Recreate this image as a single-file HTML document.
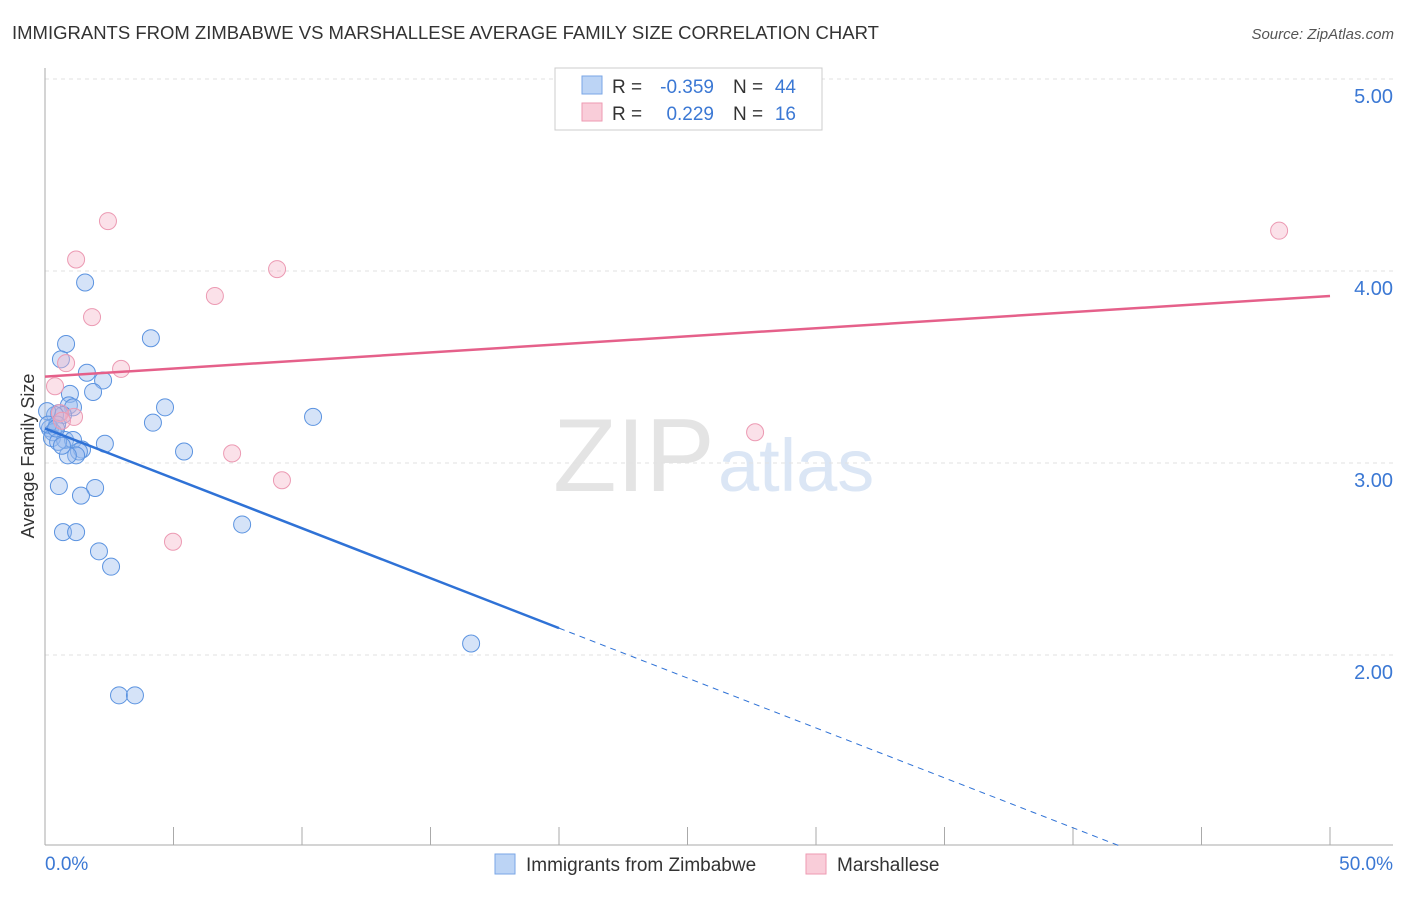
<!DOCTYPE html>
<html><head><meta charset="utf-8"><style>
body{margin:0;background:#fff;font-family:"Liberation Sans",sans-serif;}
svg text{font-family:"Liberation Sans",sans-serif;}
</style></head><body>
<svg id="chart" width="1406" height="892" xmlns="http://www.w3.org/2000/svg">
<text x="12" y="39" font-size="18.5" fill="#333">IMMIGRANTS FROM ZIMBABWE VS MARSHALLESE AVERAGE FAMILY SIZE CORRELATION CHART</text>
<text x="1394" y="39" font-size="15" fill="#555" font-style="italic" text-anchor="end">Source: ZipAtlas.com</text>
<text x="553" y="491" font-size="104" fill="#e4e4e4" font-family="Liberation Serif">ZIP</text>
<text x="718" y="491" font-size="74" fill="#dbe6f5">atlas</text>
<g id="grid"></g><g id="axes"></g><g id="marks"></g>
<text transform="translate(34,456) rotate(-90)" font-size="18" fill="#333" text-anchor="middle">Average Family Size</text>
<text x="45" y="870" font-size="19" fill="#3b78d4">0.0%</text>
<text x="1393" y="870" font-size="19" fill="#3b78d4" text-anchor="end">50.0%</text>
<g>
<rect x="555" y="68" width="267" height="62" fill="#fff" stroke="#ccc"/>
<rect x="582" y="76" width="20" height="18" fill="#bcd4f5" stroke="#7aa6e6"/>
<rect x="582" y="103" width="20" height="18" fill="#f9cdd9" stroke="#ee9ab2"/>
<text x="612" y="93" font-size="19" fill="#333">R =</text>
<text x="714" y="93" font-size="19" fill="#3b78d4" text-anchor="end">-0.359</text>
<text x="733" y="93" font-size="19" fill="#333">N =</text>
<text x="796" y="93" font-size="19" fill="#3b78d4" text-anchor="end">44</text>
<text x="612" y="120" font-size="19" fill="#333">R =</text>
<text x="714" y="120" font-size="19" fill="#3b78d4" text-anchor="end">0.229</text>
<text x="733" y="120" font-size="19" fill="#333">N =</text>
<text x="796" y="120" font-size="19" fill="#3b78d4" text-anchor="end">16</text>
</g>
<g>
<rect x="495" y="854" width="20" height="20" fill="#bcd4f5" stroke="#7aa6e6"/>
<text x="526" y="871" font-size="19" fill="#333">Immigrants from Zimbabwe</text>
<rect x="806" y="854" width="20" height="20" fill="#f9cdd9" stroke="#ee9ab2"/>
<text x="837" y="871" font-size="19" fill="#333">Marshallese</text>
</g>
</svg>
<script>
const yTicks=[2,3,4,5];
const yTickLabels=["2.00","3.00","4.00","5.00"];
const blueX=[1.56,0.82,4.12,0.62,1.63,2.26,1.87,0.97,4.67,0.93,1.09,0.54,0.70,0.39,0.47,4.20,10.43,0.19,0.31,0.27,0.78,1.09,0.51,2.33,1.44,1.32,1.21,0.89,5.41,0.54,1.95,1.40,0.70,1.21,7.67,2.10,2.57,16.58,2.88,3.50,0.08,0.12,0.43,0.66];
const blueY=[3.94,3.62,3.65,3.54,3.47,3.43,3.37,3.36,3.29,3.30,3.29,3.26,3.25,3.25,3.20,3.21,3.24,3.18,3.16,3.13,3.12,3.12,3.11,3.10,3.07,3.06,3.04,3.04,3.06,2.88,2.87,2.83,2.64,2.64,2.68,2.54,2.46,2.06,1.79,1.79,3.27,3.20,3.18,3.09];
const pinkX=[2.45,1.21,9.03,6.61,1.83,0.82,2.96,0.39,1.13,0.58,7.28,27.63,9.22,4.98,48.02,0.66];
const pinkY=[4.26,4.06,4.01,3.87,3.76,3.52,3.49,3.40,3.24,3.26,3.05,3.16,2.91,2.59,4.21,3.22];
const blueTrend=[3.18,-0.052];
const pinkTrend=[3.45,0.0084];
const NS="http://www.w3.org/2000/svg";
const X=v=>45+v*25.7, Y=v=>79+(5-v)*192;
function mk(t,a,p){const e=document.createElementNS(NS,t);for(const k in a)e.setAttribute(k,a[k]);p.appendChild(e);return e;}
const grid=document.getElementById('grid'),axes=document.getElementById('axes'),marks=document.getElementById('marks');
yTicks.forEach((t,i)=>{
 const l=mk('line',{x1:45,x2:1393,y1:Y(t),y2:Y(t),stroke:'#e2e2e2','stroke-dasharray':'4,4'},grid);
 
 
 const tx=mk('text',{x:1393,y:Y(t)+24,'font-size':20,fill:'#3b78d4','text-anchor':'end'},grid);
 tx.textContent=yTickLabels[i];
 
 
});
const ya=mk('line',{x1:45,x2:45,y1:68,y2:845,stroke:'#aaa'},axes);


const xa=mk('line',{x1:45,x2:1393,y1:845,y2:845,stroke:'#aaa'},axes);


for(let i=1;i<=10;i++){const t=mk('line',{x1:X(i*5),x2:X(i*5),y1:827,y2:845,stroke:'#aaa'},axes);
 
 }
blueX.forEach((x,i)=>{const c=mk('circle',{cx:X(x),cy:Y(blueY[i]),r:8.5,fill:'rgba(150,186,238,0.4)',stroke:'#5b93e0','stroke-width':1},marks);
 
 });
pinkX.forEach((x,i)=>{const c=mk('circle',{cx:X(x),cy:Y(pinkY[i]),r:8.5,fill:'rgba(246,180,200,0.4)',stroke:'#ec9ab3','stroke-width':1},marks);
 
 });
const bf=v=>blueTrend[0]+blueTrend[1]*v, pf=v=>pinkTrend[0]+pinkTrend[1]*v;
const b1=mk('line',{x1:X(0),y1:Y(bf(0)),x2:X(20),y2:Y(bf(20)),stroke:'#2f72d6','stroke-width':2.5},marks);


const xEnd=(1-blueTrend[0])/blueTrend[1];
const b2=mk('line',{x1:X(20),y1:Y(bf(20)),x2:X(xEnd),y2:Y(bf(xEnd)),stroke:'#2f72d6','stroke-width':1,'stroke-dasharray':'6,5'},marks);


const p1=mk('line',{x1:X(0),y1:Y(pf(0)),x2:X(50),y2:Y(pf(50)),stroke:'#e5608a','stroke-width':2.5},marks);


</script>
</body></html>
